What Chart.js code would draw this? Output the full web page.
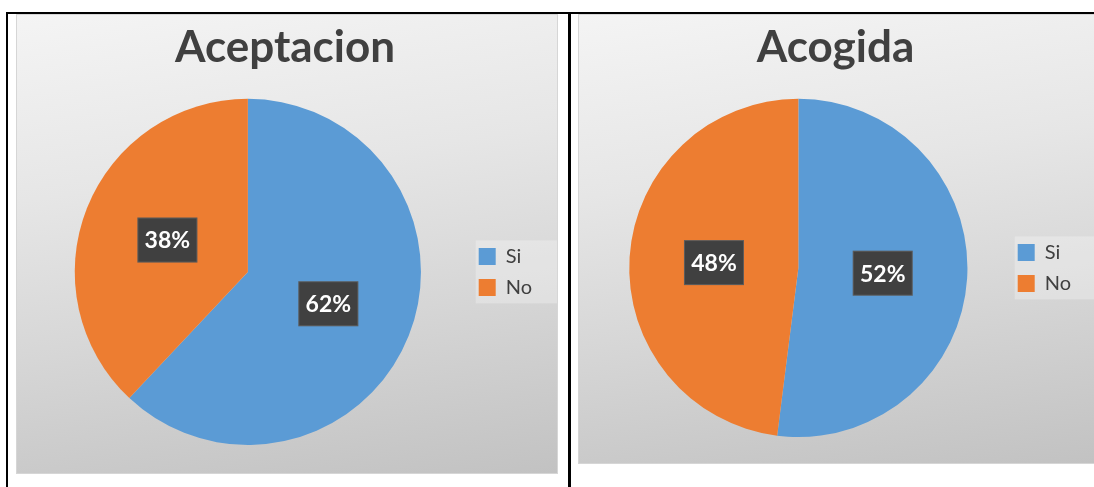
<!DOCTYPE html>
<html>
<head>
<meta charset="utf-8">
<script src="https://cdn.jsdelivr.net/npm/chart.js@4/dist/chart.umd.min.js"></script>
<style>
    html, body { margin: 0; padding: 0; background: #fff; overflow: hidden; }
    body { width: 1094px; height: 487px; position: relative; }
    .linea { position: absolute; background: #000; }
    .celda {
        position: absolute;
        box-sizing: border-box;
        border: 1px solid #d6d6d6;
        background: linear-gradient(172deg, #f4f4f4 0%, #e6e6e6 35%, #d6d6d6 65%, #c2c2c2 100%);
    }
    #celda1 { left: 16px; top: 14px; width: 542px; height: 460px; }
    #celda2 { left: 578px; top: 14px; width: 520px; height: 450px; }
</style>
</head>
<body>
<div class="linea" style="left:6px; top:12px; width:1088px; height:2px;"></div>
<div class="linea" style="left:6px; top:12px; width:2px; height:475px;"></div>
<div class="linea" style="left:568px; top:12px; width:3px; height:475px;"></div>

<div class="celda" id="celda1"><canvas id="graficoAceptacion"></canvas></div>
<div class="celda" id="celda2"><canvas id="graficoAcogida"></canvas></div>

<script>
// categorias y valores (porcentajes)
var categorias = ["Si", "No"];
var valoresAceptacion = [62, 38];
var valoresAcogida = [52, 48];
var colores = ["#5B9BD5", "#ED7D31"];

Chart.defaults.font.family = "Lato, 'Open Sans', sans-serif";

// fondo claro detras de la leyenda
var fondoLeyenda = {
    id: "fondoLeyenda",
    beforeDraw: function (chart) {
        var ley = chart.legend;
        if (!ley || !ley.legendHitBoxes.length) return;
        var cajas = ley.legendHitBoxes;
        var ctx = chart.ctx;
        var x = cajas[0].left - 3;
        var y = cajas[0].top - 6;
        var fin = cajas[cajas.length - 1].top + cajas[cajas.length - 1].height + 6;
        ctx.save();
        ctx.fillStyle = "rgba(255,255,255,0.28)";
        ctx.fillRect(x, y, chart.width - x, fin - y);
        ctx.restore();
    }
};

// etiquetas de porcentaje en cajas oscuras
var etiquetas = {
    id: "etiquetas",
    afterDatasetsDraw: function (chart) {
        var ctx = chart.ctx;
        var meta = chart.getDatasetMeta(0);
        var datos = chart.data.datasets[0].data;
        ctx.save();
        ctx.font = "bold 23px Lato, sans-serif";
        ctx.textAlign = "center";
        ctx.textBaseline = "middle";
        meta.data.forEach(function (arco, i) {
            var p = arco.tooltipPosition();
            var w = 60, h = 45;
            ctx.fillStyle = "#404040";
            ctx.fillRect(p.x - w / 2, p.y - h / 2, w, h);
            ctx.strokeStyle = "rgba(255,255,255,0.15)";
            ctx.lineWidth = 1;
            ctx.strokeRect(p.x - w / 2 + 0.5, p.y - h / 2 + 0.5, w - 1, h - 1);
            ctx.fillStyle = "#ffffff";
            ctx.fillText(datos[i] + "%", p.x, p.y + 1);
        });
        ctx.restore();
    }
};

function crearGrafico(id, titulo, valores, relleno) {
    var ctx = document.getElementById(id);
    if (!ctx) {
        console.warn('Canvas "' + id + '" no encontrado.');
        return;
    }
    new Chart(ctx.getContext("2d"), {
        type: "pie",
        data: {
            labels: categorias,
            datasets: [{
                data: valores,
                backgroundColor: colores,
                borderWidth: 0
            }]
        },
        plugins: [fondoLeyenda, etiquetas],
        options: {
            responsive: true,
            maintainAspectRatio: false,
            animation: false,
            layout: { padding: relleno },
            plugins: {
                title: {
                    display: true,
                    text: titulo,
                    color: "#404040",
                    font: { size: 44, weight: "bold", lineHeight: 1.2 },
                    padding: { top: 6, bottom: 25 }
                },
                legend: {
                    position: "right",
                    fullSize: false,
                    labels: {
                        boxWidth: 17,
                        boxHeight: 17,
                        padding: 11,
                        color: "#404040",
                        font: { size: 20 }
                    }
                },
                tooltip: { enabled: false }
            }
        }
    });
}

crearGrafico("graficoAceptacion", "Aceptacion", valoresAceptacion, { left: 11, right: 15, top: 0, bottom: 28 });
crearGrafico("graficoAcogida", "Acogida", valoresAcogida, { left: 11, right: 16, top: 0, bottom: 26 });
</script>
</body>
</html>
